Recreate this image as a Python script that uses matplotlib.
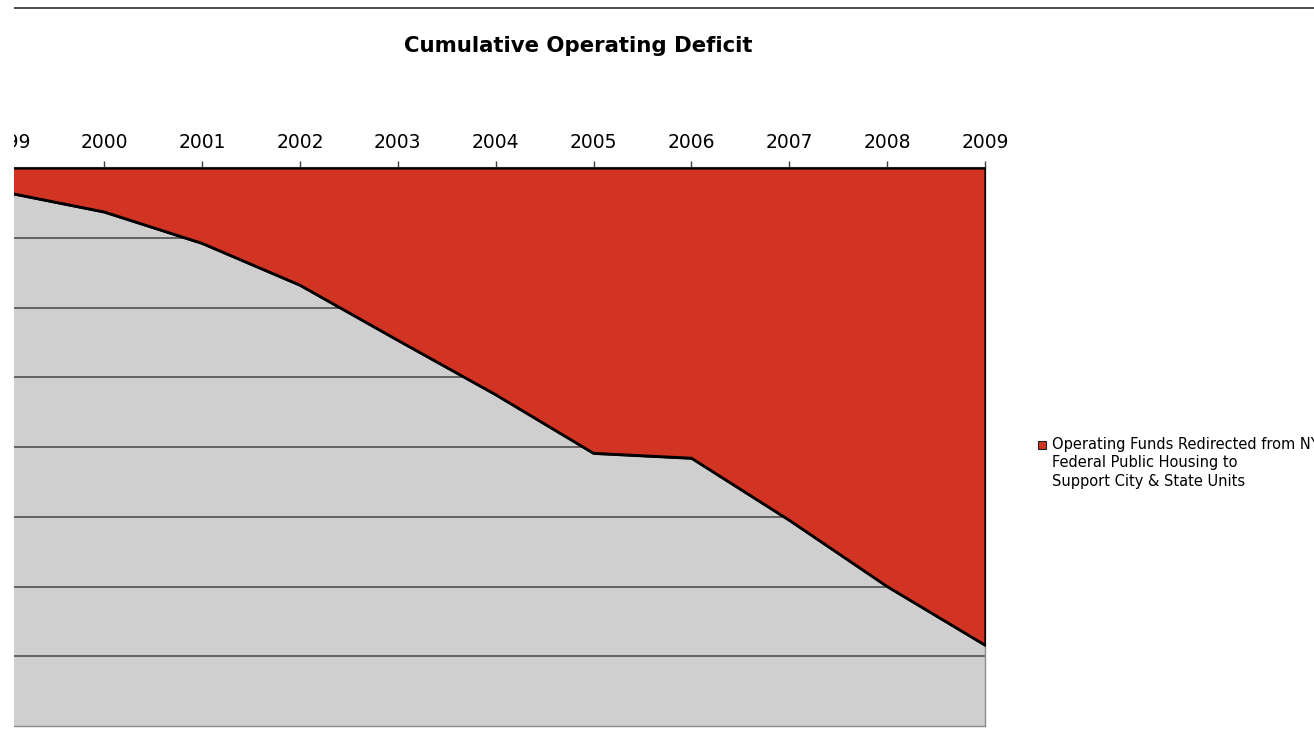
import matplotlib.pyplot as plt
from matplotlib.lines import Line2D
from matplotlib.patches import Rectangle

# cumulative operating deficit (one gridline = 1 unit)
years = [1999, 2000, 2001, 2002, 2003, 2004, 2005, 2006, 2007, 2008, 2009]
deficit = [-0.35, -0.63, -1.08, -1.68, -2.47, -3.25, -4.09, -4.16, -5.05, -6.0, -6.84]
year_labels = [str(y) for y in years]
legend_label = ("Operating Funds Redirected from NYCHA\n"
                "Federal Public Housing to\n"
                "Support City & State Units")

W, H = 1314, 745
fig = plt.figure(figsize=(W / 100, H / 100), dpi=100)

# plot area in pixel terms -> figure fractions
x0, x1 = 6.3, 985
y_top, y_bot = 168, 726
ax = fig.add_axes([x0 / W, (H - y_bot) / H, (x1 - x0) / W, (y_bot - y_top) / H])
ax.set_facecolor('#cfcfcf')

ax.fill_between(years, deficit, 0, facecolor='#d23424', edgecolor='black',
                linewidth=1.6, zorder=3)
ax.plot(years, deficit, color='black', linewidth=2, zorder=4)

ax.set_xlim(1999, 2009)
ax.set_ylim(-8, 0)
ax.set_yticks(range(-7, 0))
ax.yaxis.grid(True, color='#505050', linewidth=1.2)
ax.set_axisbelow(True)
ax.tick_params(axis='y', left=False, labelleft=False)

ax.xaxis.tick_top()
ax.set_xticks(years)
ax.set_xticklabels(year_labels, fontsize=13.5)
ax.tick_params(axis='x', direction='out', length=5, width=1, color='#404040', pad=6.5)

for side in ['left', 'right', 'bottom']:
    ax.spines[side].set_color('#8c8c8c')
    ax.spines[side].set_linewidth(1)
ax.spines['top'].set_color('#202020')
ax.spines['top'].set_linewidth(1.5)

fig.text(578 / W, (H - 46) / H, 'Cumulative Operating Deficit',
         fontsize=15.3, fontweight='bold', ha='center', va='center')

# legend
fig.patches.append(Rectangle((1038 / W, (H - 449) / H), 8 / W, 8 / H,
                             transform=fig.transFigure, facecolor='#d23424',
                             edgecolor='#202020', linewidth=0.8))
fig.text(1052 / W, (H - 437) / H, legend_label, fontsize=10.5,
         ha='left', va='top', linespacing=1.28)

# white strip on the left edge, where the original picture was cut
fig.patches.append(Rectangle((0, 0), 14 / W, 1, transform=fig.transFigure,
                             facecolor='white', edgecolor='none', zorder=10))
# chart border line at the top
fig.lines.append(Line2D([14 / W, 1], [(H - 8) / H] * 2, transform=fig.transFigure,
                        color='#303030', linewidth=1.2))

fig.savefig('out.png', dpi=100)
